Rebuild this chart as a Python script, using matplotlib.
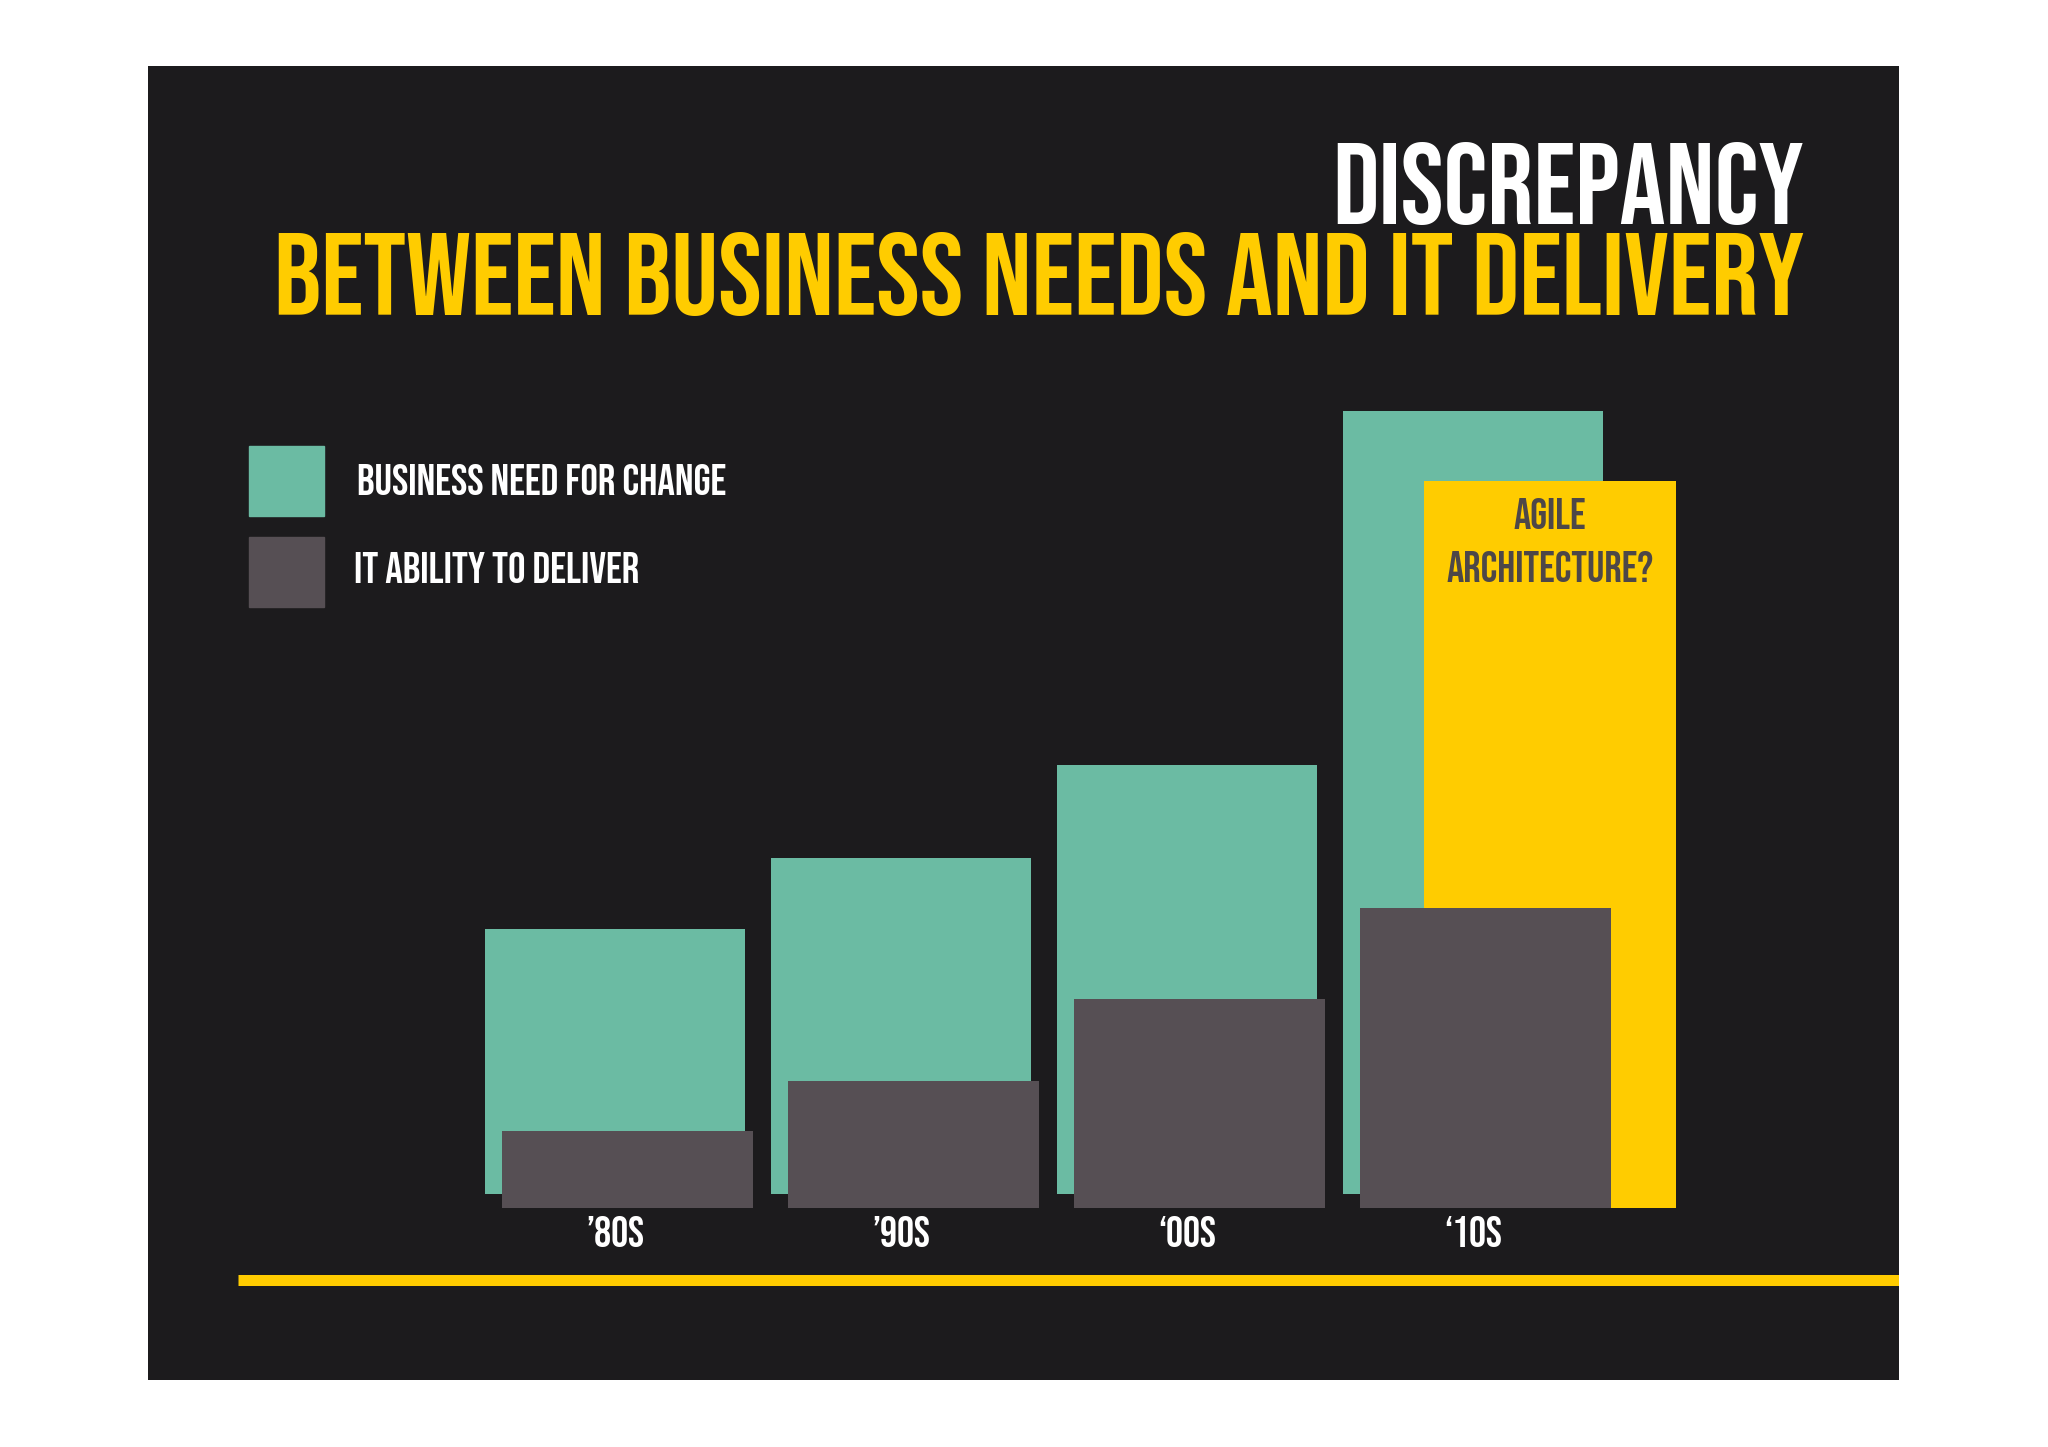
import matplotlib
matplotlib.use("Agg")
import matplotlib.pyplot as plt
from matplotlib.patches import Rectangle
from matplotlib.textpath import TextPath
from matplotlib.font_manager import FontProperties
import numpy as np

# ---- data ----
decades = ["\u201980S", "\u201990S", "\u201800S", "\u201810S"]
business_need = [26.5, 33.6, 42.9, 78.3]
it_ability = [7.7, 12.7, 20.9, 30.0]
agile_value = 72.7
agile_label = ["AGILE", "ARCHITECTURE?"]
series_names = ["BUSINESS NEED FOR CHANGE", "IT ABILITY TO DELIVER"]
title_line1 = "DISCREPANCY"
title_line2 = "BETWEEN BUSINESS NEEDS AND IT DELIVERY"

# ---- style ----
GREEN = "#6bbba3"
GRAY = "#564f54"
YELLOW = "#ffcc00"
BG = "#1c1b1d"
DARK_TXT = "#4d4748"
FONT = ["Bebas Neue", "Oswald", "DejaVu Sans"]
FW = "normal"

W, H = 2048, 1447
fig = plt.figure(figsize=(W / 100, H / 100), dpi=100, facecolor="white")
renderer = fig.canvas.get_renderer()

# black panel = axes area
L, T, R, B = 148, 66, 1899, 1380
ax = fig.add_axes([L / W, 1 - B / H, (R - L) / W, (B - T) / H])
ax.set_facecolor(BG)
for s in ax.spines.values():
    s.set_visible(False)

STEP = 286.0
X0 = 615.0
BASE = 1194.0
SCALE = 10.0
ax.set_xlim((L - X0) / STEP, (R - X0) / STEP)
ax.set_ylim((BASE - B) / SCALE, (BASE - T) / SCALE)
ax.set_yticks([])

x = np.arange(len(decades))
gray_bottom = -1.4
ax.bar(x, business_need, width=260 / STEP, color=GREEN, zorder=2)
ax.bar(x[-1] + 0.269, agile_value, width=252 / STEP, bottom=gray_bottom,
       color=YELLOW, zorder=3)
ax.bar(x + 0.045, it_ability, width=251 / STEP, bottom=gray_bottom,
       color=GRAY, zorder=4)


def fit_size(s, target_px):
    t = fig.text(0, 0, s, fontsize=100, family=FONT, weight=FW)
    w = t.get_window_extent(renderer).width
    t.remove()
    return 100.0 * target_px / w


_fp = FontProperties(family=FONT, weight=FW)
_cap_ratio = TextPath((0, 0), "H", size=100, prop=_fp).get_extents().height / 100.0


def cap_px(fs):
    return _cap_ratio * fs * 100 / 72


def fx(px):
    return px / W


def fy(py):
    return 1 - py / H


# ---- titles ----
fs2 = fit_size(title_line2, 1532)
fs1 = fit_size(title_line1, 472)
fig.text(fx(1804), fy(184 + cap_px(fs1) / 2), title_line1, color="white",
         fontsize=fs1, family=FONT, weight=FW, ha="right", va="baseline")
fig.text(fx(1804), fy(274 + cap_px(fs2) / 2), title_line2, color=YELLOW,
         fontsize=fs2, family=FONT, weight=FW, ha="right", va="baseline")

# ---- legend ----
fsl = fit_size(series_names[0], 370)
for (top, bot), col, name, tx, cy in [((446, 516), GREEN, series_names[0], 357, 480),
                                      ((537, 607), GRAY, series_names[1], 354, 568)]:
    fig.patches.append(Rectangle((fx(249), fy(bot)), fx(324) - fx(249), fy(top) - fy(bot),
                                 transform=fig.transFigure, color=col, zorder=5))
    fig.text(fx(tx), fy(cy + cap_px(fsl) / 2), name, color="white", fontsize=fsl,
             family=FONT, weight=FW, ha="left", va="baseline", zorder=6)

# ---- agile annotation ----
fsa = fit_size(agile_label[1], 207)
ax_x = x[-1] + 0.269
for lab, cy in zip(agile_label, [514, 567]):
    ax.text(ax_x, (BASE - (cy + cap_px(fsa) / 2)) / SCALE, lab, color=DARK_TXT,
            fontsize=fsa, family=FONT, weight=FW, ha="center", va="baseline", zorder=6)

# ---- decade labels ----
fst = fit_size(decades[0], 58)
ax.set_xticks(x, decades)
ax.spines["bottom"].set_position(("data", gray_bottom))
ax.tick_params(axis="x", length=0, pad=6, labelcolor="white", labelsize=fst)
for lbl in ax.get_xticklabels():
    lbl.set_family(FONT)
    lbl.set_weight(FW)

# ---- yellow rule ----
yf = (B - 1279.5) / (B - T)
xf = (238 - L) / (R - L)
ax.plot([xf, 1], [yf, yf], transform=ax.transAxes, color=YELLOW, lw=11 * 0.72,
        solid_capstyle="butt", zorder=5)

fig.savefig("out.png", dpi=100, facecolor="white")
